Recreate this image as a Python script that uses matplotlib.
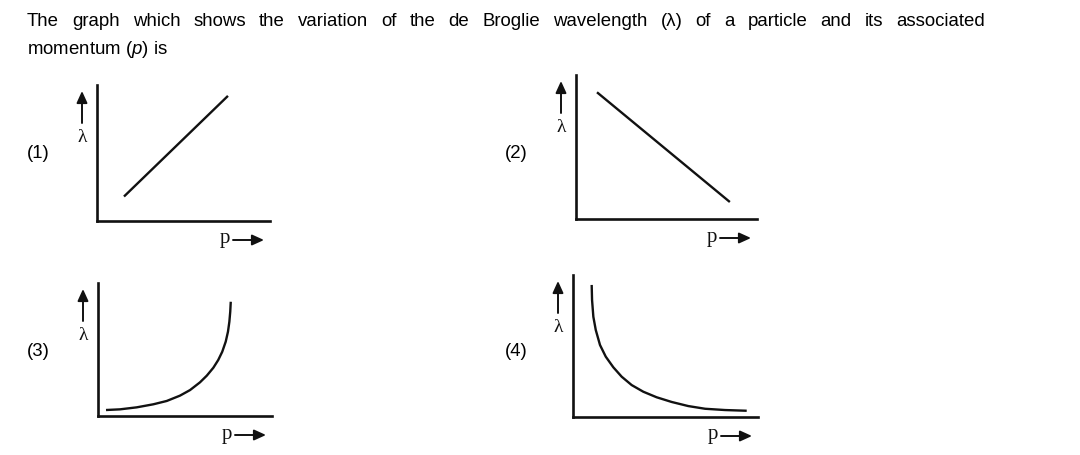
import matplotlib
matplotlib.use("Agg")
import matplotlib.pyplot as plt
from matplotlib.patches import FancyArrowPatch

W, H = 1080, 455

# question text
question_line1 = ("The graph which shows the variation of the de Broglie wavelength "
                  "(\u03bb) of a particle and its associated")
question_line2 = "momentum ($\\mathit{p}$) is"
option_labels = ["(1)", "(2)", "(3)", "(4)"]

# curves, p and lambda as fractions of each axis box
p1 = [0.156, 0.757]
lam1 = [0.18, 0.92]

p2 = [0.116, 0.85]
lam2 = [0.88, 0.118]

p3 = [0.046, 0.126, 0.222, 0.318, 0.395, 0.471, 0.529, 0.586, 0.625,
      0.663, 0.691, 0.714, 0.734, 0.747, 0.755, 0.760, 0.763]
lam3 = [0.045, 0.050, 0.065, 0.088, 0.113, 0.153, 0.195, 0.253, 0.303,
        0.363, 0.421, 0.483, 0.559, 0.634, 0.709, 0.784, 0.859]

p4 = [0.101, 0.103, 0.110, 0.123, 0.146, 0.177, 0.218, 0.263, 0.317,
      0.380, 0.452, 0.533, 0.623, 0.714, 0.822, 0.939]
lam4 = [0.930, 0.824, 0.706, 0.613, 0.507, 0.425, 0.350, 0.284, 0.225,
        0.178, 0.139, 0.106, 0.077, 0.058, 0.049, 0.044]

curves = [(p1, lam1), (p2, lam2), (p3, lam3), (p4, lam4)]

# axis boxes in pixels: origin x, origin y, right end x, top end y
boxes = [(97, 221, 270, 85), (576, 219, 757, 75), (98, 416, 272, 283), (573, 417, 758, 275)]
label_pos = [(27, 153), (505, 153), (27, 352), (505, 352)]

ink = "#111111"
fs = 13.4


def fx(px):
    return px / W


def fy(py):
    return 1 - py / H


plt.rcParams["mathtext.fontset"] = "custom"
plt.rcParams["mathtext.it"] = "Liberation Sans:italic"
plt.rcParams["mathtext.rm"] = "Liberation Sans"

fig = plt.figure(figsize=(W / 100, H / 100), dpi=100)
fig.patch.set_facecolor("white")

# first line is justified from x=27 to x=985
renderer = fig.canvas.get_renderer()
words = question_line1.split(" ")
word_texts = []
total = 0
for w in words:
    t = fig.text(0, fy(22), w, fontsize=fs, family="Liberation Sans",
                 va="center", ha="left", color="black")
    wpx = t.get_window_extent(renderer).width
    word_texts.append((t, wpx))
    total += wpx
gap = (985 - 27 - total) / (len(words) - 1)
x = 27
for t, wpx in word_texts:
    t.set_x(fx(x))
    x += wpx + gap

fig.text(fx(27), fy(49), question_line2, fontsize=fs, family="Liberation Sans",
         va="center", ha="left", color="black")

arrow_style = "-|>,head_length=4.4,head_width=2.0"

for i, (x0, y0, x1, y1) in enumerate(boxes):
    ax = fig.add_axes([fx(x0), fy(y0), (x1 - x0) / W, (y0 - y1) / H])
    ax.set_xlim(0, 1)
    ax.set_ylim(0, 1)
    for s in ["top", "right"]:
        ax.spines[s].set_visible(False)
    for s in ["left", "bottom"]:
        ax.spines[s].set_linewidth(1.9)
        ax.spines[s].set_color(ink)
    ax.set_xticks([])
    ax.set_yticks([])
    ax.patch.set_alpha(0)

    p, lam = curves[i]
    ax.plot(p, lam, color=ink, lw=1.7, solid_capstyle="butt", solid_joinstyle="round")

    # lambda arrow and label left of the y axis
    ax_x = x0 - 15
    top = y1 + 6
    fig.add_artist(FancyArrowPatch(
        (fx(ax_x), fy(top + 32)), (fx(ax_x), fy(top)), transform=fig.transFigure,
        arrowstyle=arrow_style, color=ink, lw=1.4,
        mutation_scale=1.6, shrinkA=0, shrinkB=0))
    fig.text(fx(ax_x), fy(top + 46), "\u03bb", fontsize=14, family="Liberation Serif",
             ha="center", va="center", color=ink)

    # p arrow and label under the x axis
    px = x1 - 50
    py = y0 + 18
    fig.text(fx(px), fy(py), "p", fontsize=15, family="Liberation Serif",
             ha="left", va="center", color=ink)
    fig.add_artist(FancyArrowPatch(
        (fx(px + 13), fy(py + 1)), (fx(px + 44), fy(py + 1)), transform=fig.transFigure,
        arrowstyle=arrow_style, color=ink, lw=1.4,
        mutation_scale=1.6, shrinkA=0, shrinkB=0))

    lx, ly = label_pos[i]
    fig.text(fx(lx), fy(ly), option_labels[i], fontsize=fs, family="Liberation Sans",
             ha="left", va="center", color="black")

fig.savefig("out.png", dpi=100, facecolor="white")
